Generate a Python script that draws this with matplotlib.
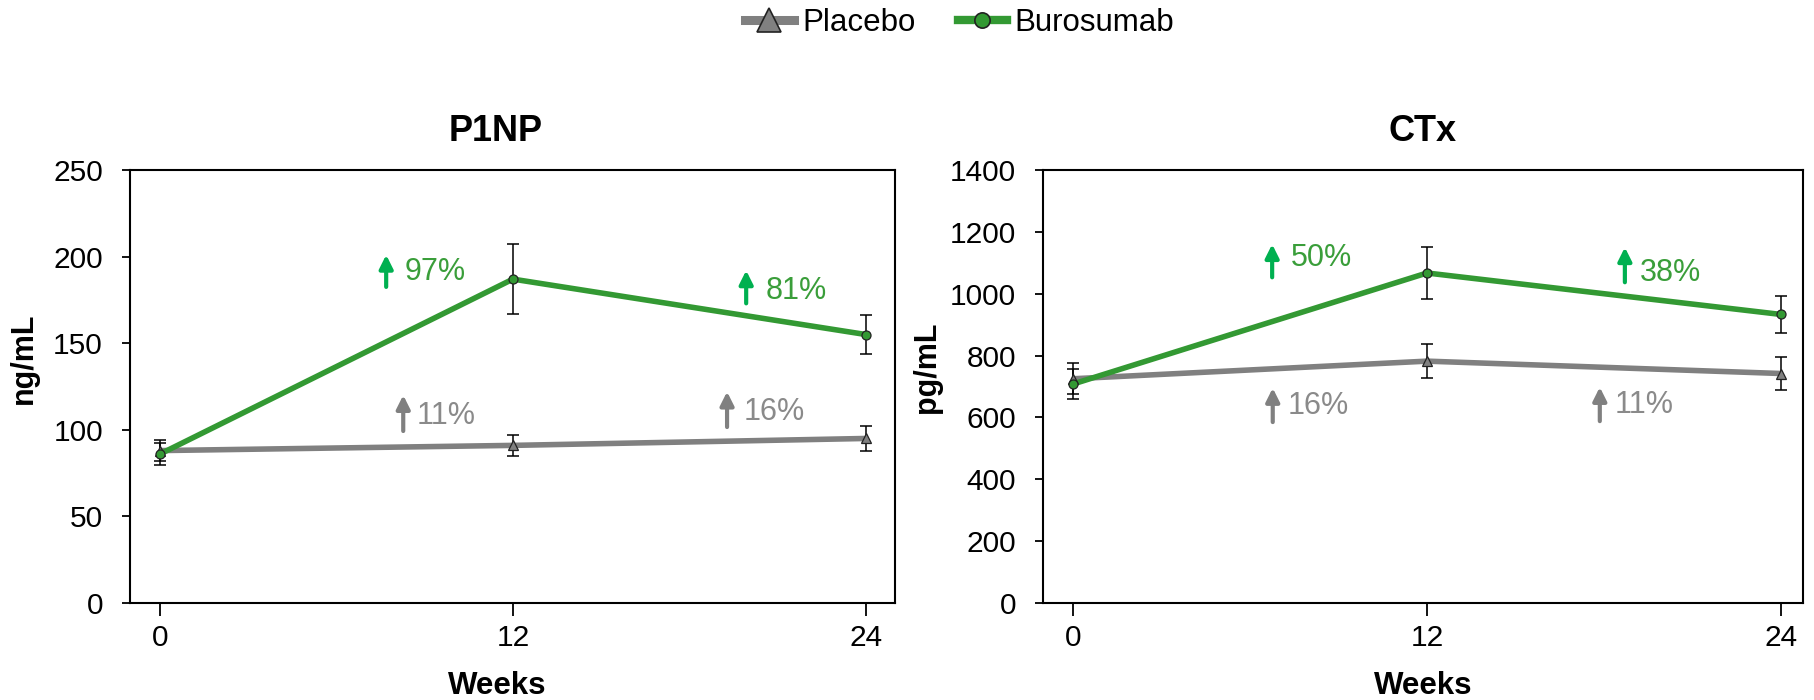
import matplotlib
matplotlib.use("Agg")
import matplotlib.pyplot as plt
from matplotlib.lines import Line2D

plt.rcParams["font.family"] = ["Liberation Sans", "DejaVu Sans"]

# ---- data -------------------------------------------------------------
weeks = [0, 12, 24]
week_ticks = [0, 12, 24]

p1np_placebo = [88, 91, 95]
p1np_placebo_err = [6, 6, 7]
p1np_burosumab = [86, 187, 155]
p1np_burosumab_err = [6.5, 20, 11.5]
p1np_placebo_pct = [11, 16]
p1np_burosumab_pct = [97, 81]

ctx_placebo = [725, 782, 742]
ctx_placebo_err = [50, 56, 53]
ctx_burosumab = [708, 1067, 933]
ctx_burosumab_err = [48, 84, 60]
ctx_placebo_pct = [16, 11]
ctx_burosumab_pct = [50, 38]

p1np_yticks = [0, 50, 100, 150, 200, 250]
ctx_yticks = [0, 200, 400, 600, 800, 1000, 1200, 1400]

# ---- styles -----------------------------------------------------------
GREEN_LINE = "#339933"
GREEN_ARROW = "#00b050"
GREEN_TEXT = "#3a9e3a"
GRAY_LINE = "#808080"
GRAY_TEXT = "#8a8a8a"
FS = 21.5

fig = plt.figure(figsize=(18.14, 7.0), dpi=100)
ax1 = fig.add_axes([130 / 1814, 97 / 700, 765 / 1814, 433 / 700])
ax2 = fig.add_axes([1043 / 1814, 97 / 700, 760 / 1814, 433 / 700])


def draw_panel(ax, pbo, pbo_err, bur, bur_err, yticks, xlim, title, title_x,
               ylabel, ylabel_xy, xlabel_x, notes):
    ax.plot(weeks, pbo, color=GRAY_LINE, lw=4, zorder=2, solid_capstyle="butt")
    ax.plot(weeks, bur, color=GREEN_LINE, lw=4, zorder=3, solid_capstyle="butt")
    ax.errorbar(weeks, pbo, yerr=pbo_err, fmt="none", ecolor="black",
                elinewidth=1.1, capsize=4.5, capthick=1.1, zorder=4)
    ax.errorbar(weeks, bur, yerr=bur_err, fmt="none", ecolor="black",
                elinewidth=1.1, capsize=4.5, capthick=1.1, zorder=4)
    ax.plot(weeks, pbo, ls="none", marker="^", ms=6.5, mfc=GRAY_LINE,
            mec="#222222", mew=0.9, zorder=5)
    ax.plot(weeks, bur, ls="none", marker="o", ms=6.5, mfc=GREEN_LINE,
            mec="#222222", mew=0.9, zorder=6)

    for (label, ax_x, y0, y1, tx, ty, arrow_col, text_col) in notes:
        ax.annotate("", xy=(ax_x, y1), xytext=(ax_x, y0),
                    arrowprops=dict(arrowstyle="-|>", color=arrow_col, lw=3,
                                    mutation_scale=20, shrinkA=0, shrinkB=0),
                    zorder=7)
        ax.text(tx, ty, label, color=text_col, fontsize=22,
                ha="left", va="center", zorder=7)

    ax.set_xlim(*xlim)
    ax.set_ylim(yticks[0], yticks[-1])
    ax.set_xticks(week_ticks)
    ax.set_yticks(yticks)
    ax.tick_params(axis="y", labelsize=FS, length=6, width=1.3, pad=13.5)
    ax.tick_params(axis="x", labelsize=FS, length=9, width=1.3, pad=6)
    for sp in ax.spines.values():
        sp.set_linewidth(1.5)
    ax.set_title(title, fontsize=26, fontweight="bold", x=title_x, pad=21)
    ax.set_ylabel(ylabel, fontsize=22, fontweight="bold")
    ax.yaxis.set_label_coords(*ylabel_xy)
    ax.set_xlabel("Weeks", fontsize=22.5, fontweight="bold", va="top")
    ax.xaxis.set_label_coords(xlabel_x, -0.158)


def pct(v):
    return f"{v}%"


draw_panel(
    ax1, p1np_placebo, p1np_placebo_err, p1np_burosumab, p1np_burosumab_err,
    p1np_yticks, (-1.02, 24.99), "P1NP", 0.478, "ng/mL", (-0.119, 0.566), 0.48,
    [
        (pct(p1np_burosumab_pct[0]), 7.69, 182.5, 201, 8.33, 191, GREEN_ARROW, GREEN_TEXT),
        (pct(p1np_burosumab_pct[1]), 19.93, 173, 192, 20.58, 180, GREEN_ARROW, GREEN_TEXT),
        (pct(p1np_placebo_pct[0]), 8.27, 99.3, 120, 8.74, 108, GRAY_LINE, GRAY_TEXT),
        (pct(p1np_placebo_pct[1]), 19.28, 101.6, 122, 19.86, 110.5, GRAY_LINE, GRAY_TEXT),
    ],
)

draw_panel(
    ax2, ctx_placebo, ctx_placebo_err, ctx_burosumab, ctx_burosumab_err,
    ctx_yticks, (-1.02, 24.75), "CTx", 0.5, "pg/mL", (-0.133, 0.545), 0.5,
    [
        (pct(ctx_burosumab_pct[0]), 6.75, 1053, 1160, 7.39, 1115, GREEN_ARROW, GREEN_TEXT),
        (pct(ctx_burosumab_pct[1]), 18.71, 1037, 1150, 19.22, 1067, GREEN_ARROW, GREEN_TEXT),
        (pct(ctx_placebo_pct[0]), 6.77, 585, 695, 7.29, 636, GRAY_LINE, GRAY_TEXT),
        (pct(ctx_placebo_pct[1]), 17.86, 588, 698, 18.37, 639, GRAY_LINE, GRAY_TEXT),
    ],
)

handles = [
    Line2D([], [], color=GRAY_LINE, lw=6.5, marker="^", ms=17, mfc=GRAY_LINE,
           mec="#222222", mew=1.2),
    Line2D([], [], color=GREEN_LINE, lw=6, marker="o", ms=11, mfc=GREEN_LINE,
           mec="#222222", mew=1.2),
]
fig.legend(handles, ["Placebo", "Burosumab"], loc="center",
           bbox_to_anchor=(0.529, 1 - 23 / 700), ncol=2, frameon=False,
           fontsize=22.5, handlelength=1.57, handletextpad=0.26,
           columnspacing=1.35, borderpad=0)

fig.savefig("out.png", dpi=100)
